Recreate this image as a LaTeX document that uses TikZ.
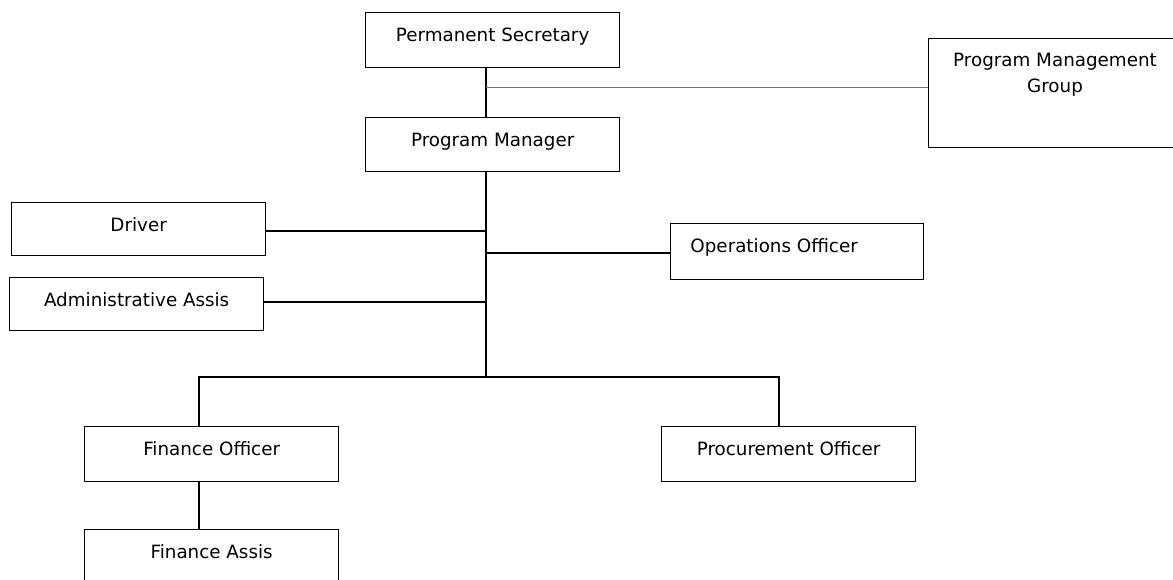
\documentclass[tikz,border=0pt]{standalone}
\usepackage{fontspec}
\setmainfont{DejaVu Sans}
\begin{document}
\begin{tikzpicture}[x=1pt,y=-1pt,
  lbl/.style={font=\fontsize{18.3pt}{26pt}\selectfont},
  box/.style={draw, line width=1.3pt, inner sep=0pt, minimum width=254pt,
    text height=29pt, text depth=26pt, anchor=north west, lbl},
  conn/.style={line width=1.3pt},
  gconn/.style={line width=1pt, draw=black!55}]
\useasboundingbox (0,0) rectangle (1173,580);
\node[box] (ps) at (365,12) {Permanent Secretary};
\node[box, text depth=25pt] (pm) at (365,117) {Program Manager};
\node[box, text height=0pt, text depth=0pt, minimum height=109pt] (pmg) at (928,38) {};
\node[lbl, align=center, anchor=north, inner sep=0pt] (pmgt) at (1055,53) {Program Management\\Group};
\node[box, text depth=24pt] (driver) at (11,202) {Driver};
\node[box, text depth=24pt] (admin) at (9,277) {Administrative Assis};
\node[box, text depth=27pt, minimum width=253pt] (ops) at (670,223) {Operations Officer\hspace*{46pt}};
\node[box] (fo) at (84,426) {Finance Officer};
\node[box] (proc) at (661,426) {Procurement Officer};
\node[box, text depth=30pt] (fa) at (84,529) {Finance Assis};
\coordinate (sp) at (486,0);
\coordinate (j1) at (486,88);
\coordinate (jd) at (486,231);
\coordinate (ja) at (486,302);
\coordinate (jo) at (486,253);
\coordinate (busc) at (486,377);
\coordinate (bl) at (199,377);
\coordinate (br) at (779,377);
\draw[conn] (ps.south -| sp) -- (pm.north -| sp);
\draw[gconn] (j1) -- (j1 -| pmg.west);
\draw[conn] (pm.south -| sp) -- (busc);
\draw[conn] (jd -| driver.east) -- (jd);
\draw[conn] (ja -| admin.east) -- (ja);
\draw[conn] (jo) -- (jo -| ops.west);
\draw[conn] (bl |- fo.north) -- (bl) -- (br) -- (br |- proc.north);
\draw[conn] (bl |- fo.south) -- (bl |- fa.north);
\end{tikzpicture}
\end{document}
